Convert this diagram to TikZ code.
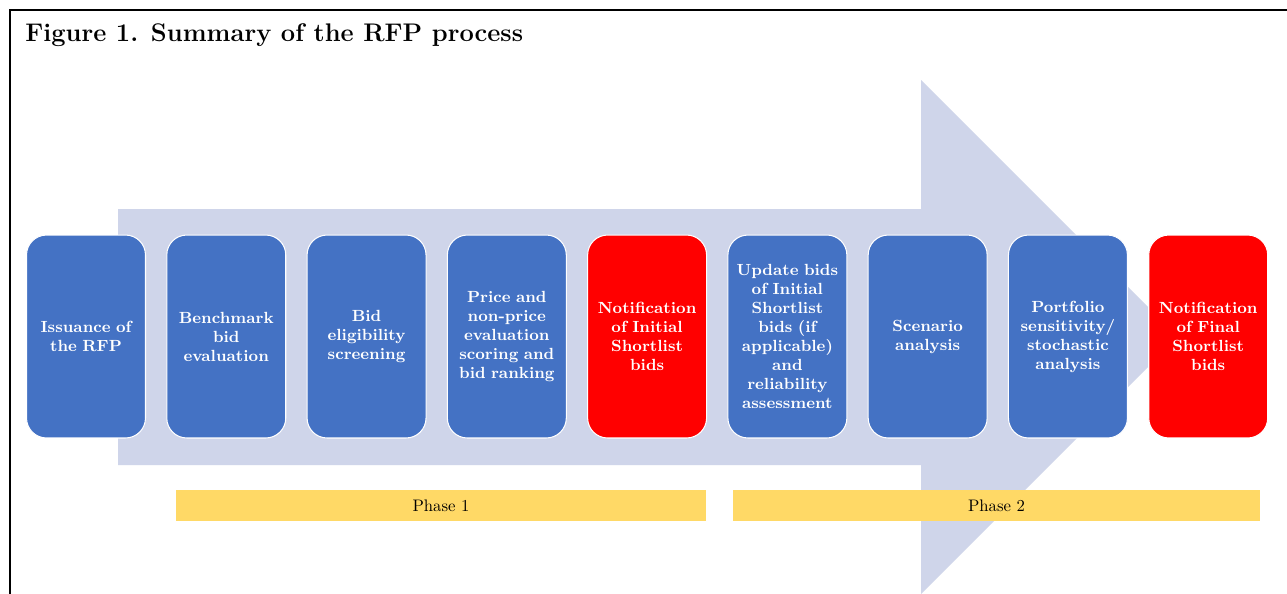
\documentclass[tikz,border=0pt]{standalone}
\usetikzlibrary{positioning}
\definecolor{stepblue}{HTML}{4472C4}
\definecolor{stepred}{HTML}{FF0000}
\definecolor{arrowgrey}{HTML}{CFD5EA}
\definecolor{phaseyellow}{HTML}{FFD966}

\begin{document}
\begin{tikzpicture}[x=0.02cm, y=-0.02cm,
		stage/.style={draw=white, line width=0.6pt, rounded corners=0.4cm, minimum width=2.38cm, minimum height=4.06cm,
			text width=2.3cm, align=center, text=white, inner sep=0pt, font=\fontsize{9.2}{10.8}\selectfont\bfseries},
		phase/.style={fill=phaseyellow, minimum height=0.62cm, inner sep=0pt, font=\fontsize{9.5}{11}\selectfont}]
		\clip (0,0) rectangle (1287,593);
		\fill[white] (0,0) rectangle (1287,593);
		\draw[line width=1.1pt] (10,600) -- (10,10) -- (1290,10);
		\node[anchor=base west, inner sep=0pt, font=\fontsize{14.5}{18}\selectfont\bfseries] (title) at (25,41) {Figure 1. Summary of the RFP process};
	
		\fill[arrowgrey] (118,209) -- (921,209) -- (921,80) -- (1178,337) -- (921,594) -- (921,465) -- (118,465) -- cycle;
	
		\node[stage, fill=stepblue] (issue) at (86,336.5) {Issuance of\\the RFP};
		\node[stage, fill=stepblue, right=0.405cm of issue] (bench) {Benchmark\\bid\\evaluation};
		\node[stage, fill=stepblue, right=0.405cm of bench] (screen) {Bid\\eligibility\\screening};
		\node[stage, fill=stepblue, right=0.405cm of screen] (rank) {Price and\\non-price\\evaluation\\scoring and\\bid ranking};
		\node[stage, fill=stepred, right=0.405cm of rank] (initial) {Notification\\of Initial\\Shortlist\\bids};
		\node[stage, fill=stepblue, right=0.405cm of initial] (update) {Update bids\\of Initial\\Shortlist\\bids (if\\applicable)\\and\\reliability\\assessment};
		\node[stage, fill=stepblue, right=0.405cm of update] (scen) {Scenario\\analysis};
		\node[stage, fill=stepblue, right=0.405cm of scen] (port) {Portfolio\\sensitivity/\\stochastic\\analysis};
		\node[stage, fill=stepred, right=0.405cm of port] (final) {Notification\\of Final\\Shortlist\\bids};
	
		\node[phase, minimum width=10.6cm] (phaseone) at (441,505.5) {Phase 1};
		\node[phase, minimum width=10.54cm] (phasetwo) at (996.5,505.5) {Phase 2};
	\end{tikzpicture}
\end{document}
